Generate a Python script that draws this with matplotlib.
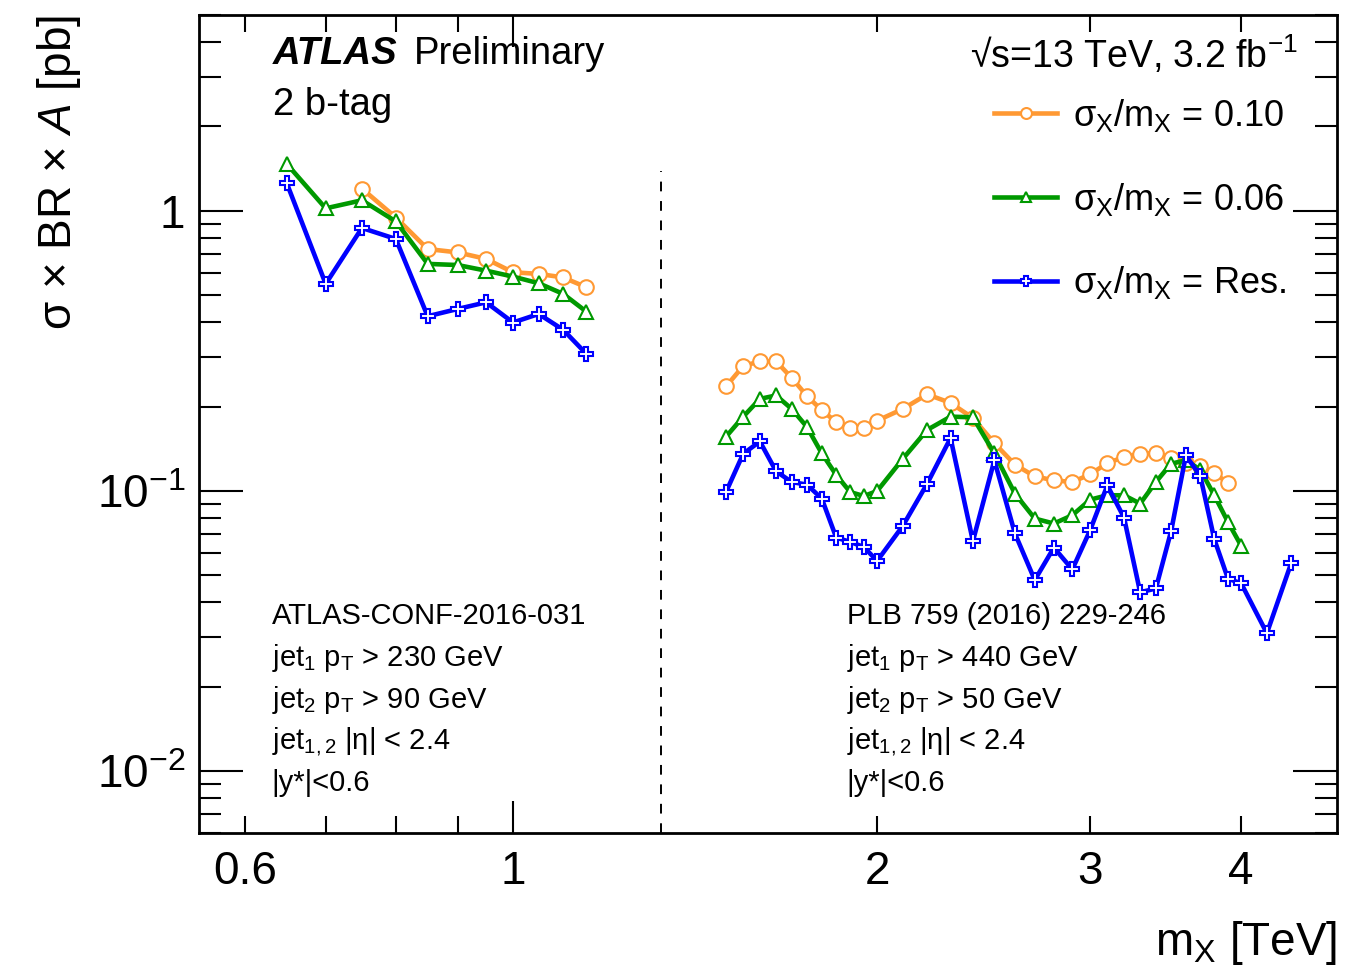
import numpy as np
import matplotlib
matplotlib.use("Agg")
import matplotlib.pyplot as plt
from matplotlib.ticker import FixedLocator, NullFormatter, LogLocator, FuncFormatter

plt.rcParams['font.family'] = ['Liberation Sans', 'DejaVu Sans']
plt.rcParams['mathtext.fontset'] = 'custom'
plt.rcParams['mathtext.rm'] = 'Liberation Sans'
plt.rcParams['mathtext.it'] = 'Liberation Sans:italic'
plt.rcParams['mathtext.bf'] = 'Liberation Sans:bold'

# low mass analysis (ATLAS-CONF-2016-031)
mass_low = [0.65, 0.70, 0.75, 0.80, 0.85, 0.90, 0.95, 1.00, 1.05, 1.10, 1.15]
g006_low = [1.47, 1.02, 1.09, 0.916, 0.646, 0.640, 0.611, 0.582, 0.551, 0.505, 0.436]
res_low = [1.255, 0.548, 0.868, 0.793, 0.420, 0.446, 0.471, 0.399, 0.428, 0.376, 0.308]
mass_low_010 = [0.75, 0.80, 0.85, 0.90, 0.95, 1.00, 1.05, 1.10, 1.15]
g010_low = [1.20, 0.946, 0.730, 0.710, 0.673, 0.603, 0.595, 0.578, 0.533]

# high mass analysis (PLB 759 (2016) 229-246)
mass_high = [1.50, 1.55, 1.60, 1.65, 1.70, 1.75, 1.80, 1.85, 1.90, 1.95, 2.0,
             2.1, 2.2, 2.3, 2.4, 2.5, 2.6, 2.7, 2.8, 2.9, 3.0,
             3.1, 3.2, 3.3, 3.4, 3.5, 3.6, 3.7, 3.8, 3.9, 4.0]
g010_high = [0.236, 0.279, 0.290, 0.290, 0.253, 0.218, 0.194, 0.176, 0.168, 0.1675, 0.178,
             0.196, 0.221, 0.206, 0.182, 0.148, 0.124, 0.1126, 0.109, 0.1075, 0.1145,
             0.1256, 0.132, 0.1357, 0.1364, 0.1313, 0.126, 0.1226, 0.1157, 0.1066]
g006_high = [0.156, 0.184, 0.213, 0.219, 0.196, 0.169, 0.136, 0.114, 0.099, 0.0958, 0.0998,
             0.130, 0.165, 0.184, 0.183, 0.136, 0.0977, 0.0796, 0.0764, 0.0818, 0.093,
             0.0964, 0.0964, 0.090, 0.1075, 0.125, 0.1285, 0.119, 0.0964, 0.0774, 0.0636]
mass_high_res = mass_high + [4.2, 4.4]
res_high = [0.099, 0.1357, 0.150, 0.1174, 0.1075, 0.1052, 0.0938, 0.0681, 0.0657, 0.063, 0.0562,
            0.0749, 0.1061, 0.1543, 0.0661, 0.1285, 0.0704, 0.048, 0.0627, 0.0524, 0.0723,
            0.1046, 0.0802, 0.0434, 0.0448, 0.0717, 0.1338, 0.1129, 0.0672, 0.0486, 0.0467,
            0.031, 0.0553]

split_mass = 1.325

c_orange = '#ff9933'
c_green = '#009900'
c_blue = '#0000ff'

fig = plt.figure(figsize=(13.49, 9.72), dpi=100)
ax = fig.add_axes([199/1349, 1-833/972, (1337-199)/1349, (833-15)/972])
ax.set_xscale('log')
ax.set_yscale('log')
ax.set_xlim(0.55, 4.8)
ax.set_ylim(0.006, 5.0)

style = dict(lw=3.3, ms=10.5, mew=1.5, mfc='white')
l1, = ax.plot(mass_low_010, g010_low, color=c_orange, marker='o', **style)
ax.plot(mass_high[:-1], g010_high, color=c_orange, marker='o', **style)
l2, = ax.plot(mass_low, g006_low, color=c_green, marker='^', **style)
ax.plot(mass_high, g006_high, color=c_green, marker='^', **style)
l3, = ax.plot(mass_low, res_low, color=c_blue, marker='P', **style)
ax.plot(mass_high_res, res_high, color=c_blue, marker='P', **style)

ax.plot([split_mass, split_mass], [0.006, 1.39], color='black', lw=1.4, ls=(0, (5, 5)))

# ticks: only 1 is a long tick, the other labelled ones are short
ax.xaxis.set_major_locator(FixedLocator([1.0]))
ax.xaxis.set_major_formatter(FuncFormatter(lambda v, p: '1'))
ax.xaxis.set_minor_locator(FixedLocator([0.6, 0.7, 0.8, 0.9, 2, 3, 4]))
ax.xaxis.set_minor_formatter(FuncFormatter(
    lambda v, p: ('%g' % v) if round(v, 2) in (0.6, 2, 3, 4) else ''))
ax.yaxis.set_major_locator(FixedLocator([0.01, 0.1, 1]))
ax.yaxis.set_major_formatter(FuncFormatter(
    lambda v, p: {0.01: r'10$^\mathregular{-2}$', 0.1: r'10$^\mathregular{-1}$'}.get(round(v, 2), '1')))
ax.yaxis.set_minor_locator(LogLocator(base=10, subs=np.arange(2, 10)))
ax.yaxis.set_minor_formatter(NullFormatter())
ax.tick_params(which='both', direction='in', top=True, right=True, width=1.5, labelsize=33)
ax.tick_params(axis='y', which='major', length=32, pad=10)
ax.tick_params(axis='y', which='minor', length=16)
ax.tick_params(axis='x', which='major', length=23, pad=12)
ax.tick_params(axis='x', which='minor', length=12, pad=12)
for s in ax.spines.values():
    s.set_linewidth(2)

ax.set_xlabel(r'm$_\mathregular{X}$ [TeV]', fontsize=33, loc='right', labelpad=18)
ax.set_ylabel(r'σ $\times$ BR $\times$ $\mathit{A}$ [pb]', fontsize=33, loc='top', labelpad=10)

ax.text(0.065, 0.952, 'ATLAS', transform=ax.transAxes, fontsize=27.5,
        fontweight='bold', fontstyle='italic', va='center')
ax.text(0.189, 0.952, 'Preliminary', transform=ax.transAxes, fontsize=27.5, va='center')
ax.text(0.065, 0.89, '2 b-tag', transform=ax.transAxes, fontsize=27.5, va='center')
ax.text(0.966, 0.952, r'√s=13 TeV, 3.2 fb$^\mathregular{-1}$', transform=ax.transAxes,
        fontsize=27, va='center', ha='right')

notes_left = ['ATLAS-CONF-2016-031',
              r'jet$_\mathregular{1}$ p$_\mathregular{T}$ > 230 GeV',
              r'jet$_\mathregular{2}$ p$_\mathregular{T}$ > 90 GeV',
              r'jet$_\mathregular{1,2}$ |η| < 2.4',
              r'|y*|<0.6']
notes_right = ['PLB 759 (2016) 229-246',
               r'jet$_\mathregular{1}$ p$_\mathregular{T}$ > 440 GeV',
               r'jet$_\mathregular{2}$ p$_\mathregular{T}$ > 50 GeV',
               r'jet$_\mathregular{1,2}$ |η| < 2.4',
               r'|y*|<0.6']
for i, (a, b) in enumerate(zip(notes_left, notes_right)):
    yy = 0.265 - i * 0.051
    ax.text(0.064, yy, a, transform=ax.transAxes, fontsize=21, va='center')
    ax.text(0.569, yy, b, transform=ax.transAxes, fontsize=21, va='center')

leg = ax.legend([l1, l2, l3],
                [r'σ$_\mathregular{X}$/m$_\mathregular{X}$ = 0.10',
                 r'σ$_\mathregular{X}$/m$_\mathregular{X}$ = 0.06',
                 r'σ$_\mathregular{X}$/m$_\mathregular{X}$ = Res.'],
                loc='upper left', bbox_to_anchor=(0.67, 0.94), frameon=False,
                fontsize=26, handlelength=1.75, handletextpad=0.45, labelspacing=1.3,
                markerscale=0.75)

fig.savefig('out.png', dpi=100)
